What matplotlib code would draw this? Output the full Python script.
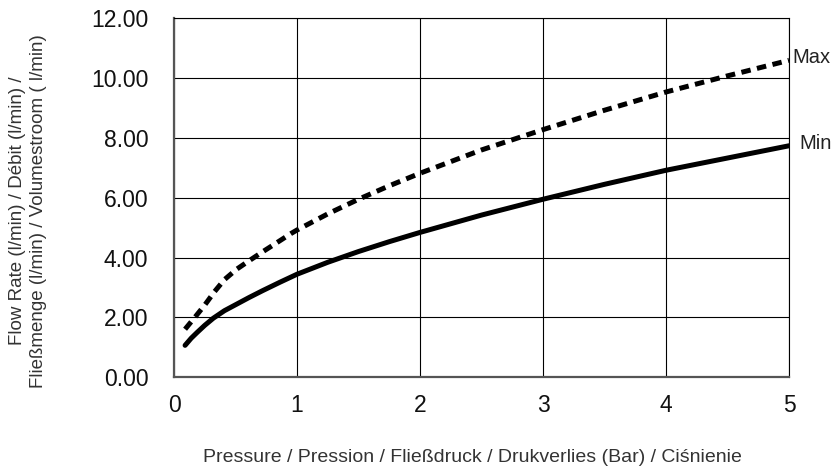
import matplotlib
matplotlib.use("Agg")
import matplotlib.pyplot as plt

plt.rcParams['font.family'] = ['Liberation Sans', 'DejaVu Sans']

# Min curve (solid)
min_x = [0.09, 0.14, 0.19, 0.25, 0.32, 0.41, 0.51, 0.61, 0.72, 0.86, 1.0, 1.25, 1.5, 1.75,
         2.0, 2.5, 3.0, 3.5, 4.0, 4.5, 5.0]
min_y = [1.06, 1.3, 1.5, 1.73, 1.97, 2.22, 2.44, 2.66, 2.89, 3.17, 3.44, 3.84, 4.2, 4.53,
         4.84, 5.42, 5.95, 6.45, 6.92, 7.33, 7.74]

# Max curve (dashed)
max_x = [0.09, 0.17, 0.25, 0.33, 0.41, 0.51, 0.61, 0.72, 0.83, 0.95, 1.0, 1.25, 1.5, 1.75,
         2.0, 2.5, 3.0, 3.5, 4.0, 4.5, 5.0]
max_y = [1.6, 2.0, 2.41, 2.86, 3.26, 3.61, 3.89, 4.19, 4.48, 4.8, 4.92, 5.46, 5.95, 6.4,
         6.82, 7.6, 8.28, 8.93, 9.54, 10.08, 10.6]

x_ticks = [0, 1, 2, 3, 4, 5]
y_ticks = [0, 2, 4, 6, 8, 10, 12]

fig = plt.figure(figsize=(8.37, 4.67), dpi=100)
ax = fig.add_axes([0.2079, 0.1927, 0.7348, 0.7677])

ax.plot(min_x, min_y, color='black', linewidth=3.6, solid_capstyle='round')
ax.plot(max_x, max_y, color='black', linewidth=3.6, linestyle=(0, (1.9, 1.3)))

ax.set_xlim(0, 5)
ax.set_ylim(0, 12)
ax.set_xticks(x_ticks)
ax.set_yticks(y_ticks)
ax.set_xticklabels([str(v) for v in x_ticks], fontsize=16.5, color='#111111')
ax.set_yticklabels(['%.2f' % v for v in y_ticks], fontsize=16.5, color='#111111')
ax.tick_params(length=0)
ax.tick_params(axis='x', pad=12)
ax.tick_params(axis='y', pad=18.5)

ax.grid(True, color='black', linewidth=0.8)
for side in ['top', 'right']:
    ax.spines[side].set_color('black')
    ax.spines[side].set_linewidth(0.8)
for side in ['left', 'bottom']:
    ax.spines[side].set_color('#555555')
    ax.spines[side].set_linewidth(1.6)

ax.text(5.03, 10.7, 'Max', fontsize=14.5, color='#222222', va='center', ha='left', clip_on=False)
ax.text(5.08, 7.83, 'Min', fontsize=14.5, color='#222222', va='center', ha='left', clip_on=False)

fig.text(0.565, 1 - 458 / 467, 'Pressure / Pression / Fließdruck / Drukverlies (Bar) / Ciśnienie',
         fontsize=14, color='#333333', ha='center', va='center')
fig.text(18 / 837, 1 - 211 / 467, 'Flow Rate (l/min) / Débit (l/min) /',
         fontsize=13.5, color='#333333', rotation=90, ha='center', va='center')
fig.text(39 / 837, 1 - 211 / 467, 'Fließmenge (l/min) / Volumestroom ( l/min)',
         fontsize=13.5, color='#333333', rotation=90, ha='center', va='center')

fig.savefig('out.png', dpi=100)
